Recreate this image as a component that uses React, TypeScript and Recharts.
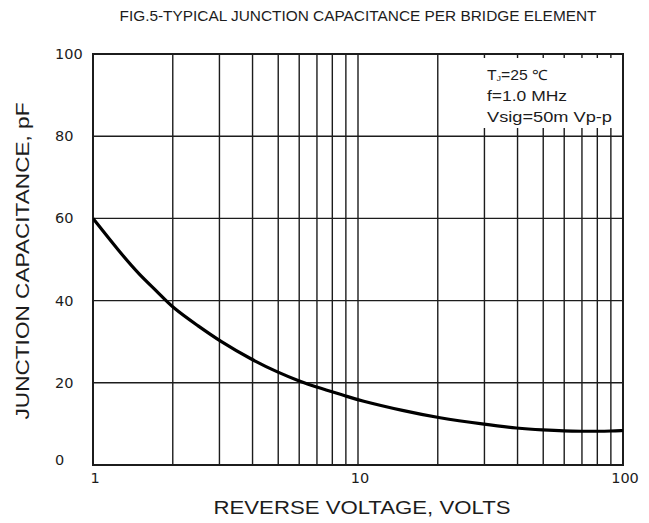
import React from "react";
import { LineChart, Line, XAxis, YAxis, CartesianGrid, ReferenceArea } from "recharts";

// reverse voltage (V) and junction capacitance (pF)
const voltage = [1, 1.25, 1.5, 1.75, 2, 2.5, 3, 4, 5, 6, 7, 8, 9, 10, 15, 20, 30, 40, 50, 60, 70, 80, 90, 100];
const capacitance = [60, 52.1, 46.2, 42.2, 38.2, 33.8, 30.2, 25.5, 22.5, 20.4, 18.9, 17.8, 16.8, 15.8, 13.1, 11.5, 9.9, 8.9, 8.5, 8.25, 8.2, 8.2, 8.25, 8.4];

const xTicks = [1, 2, 3, 4, 5, 6, 7, 8, 9, 10, 20, 30, 40, 50, 60, 70, 80, 90, 100];
const xLabels = [1, 10, 100];
const yTicks = [0, 20, 40, 60, 80, 100];

const title = "FIG.5-TYPICAL JUNCTION CAPACITANCE PER BRIDGE ELEMENT";
const xTitle = "REVERSE VOLTAGE, VOLTS";
const yTitle = "JUNCTION CAPACITANCE, pF";
const conditions = ["f=1.0 MHz", "Vsig=50m Vp-p"];

const data = voltage.map((v, i) => ({ v, c: capacitance[i] }));

const INK = "#1c1c1c";
const SANS = "'Liberation Sans', Arial, sans-serif";
const TICK_FONT = "'DejaVu Sans', sans-serif";

const XTick = (props: any) => {
  const { x, payload } = props;
  if (!xLabels.includes(payload.value)) return null;
  return (
    <text x={x + 2} y={483} textAnchor="middle" fontFamily={TICK_FONT} fontSize={14.5} fill={INK}>
      {payload.value}
    </text>
  );
};

const YTick = (props: any) => {
  const { y, payload } = props;
  return (
    <text x={55} y={y + 5 - (payload.value === 0 ? 5 : 0)} textAnchor="start" fontFamily={TICK_FONT} fontSize={14.5} fill={INK}>
      {payload.value}
    </text>
  );
};

export default function App() {
  return (
    <div style={{ position: "absolute", left: 0, top: 0, width: 649, height: 523, background: "#fff" }}>
      <LineChart width={649} height={523} data={data} margin={{ top: 54, right: 26, bottom: 0, left: 0 }}>
        <CartesianGrid stroke={INK} strokeWidth={1.4} horizontalValues={yTicks} verticalValues={xTicks} />
        <XAxis
          dataKey="v"
          type="number"
          scale="log"
          domain={[1, 100]}
          ticks={xTicks}
          interval={0}
          allowDataOverflow
          height={58}
          axisLine={false}
          tickLine={false}
          tick={<XTick />}
        />
        <YAxis
          type="number"
          domain={[0, 100]}
          ticks={yTicks}
          interval={0}
          width={93}
          axisLine={false}
          tickLine={false}
          tick={<YTick />}
        />
        <ReferenceArea x1={26.5} x2={100} y1={82} y2={99} fill="#fff" fillOpacity={1} stroke="none" />
        <ReferenceArea x1={1} x2={100} y1={0} y2={100} fill="none" stroke={INK} strokeWidth={2} />
        <Line
          dataKey="c"
          type="basis"
          stroke="#000"
          strokeWidth={3.2}
          dot={false}
          isAnimationActive={false}
        />
      </LineChart>
      <svg width={649} height={523} style={{ position: "absolute", left: 0, top: 0, pointerEvents: "none" }}>
        <text x={358} y={21} textAnchor="middle" fontFamily={SANS} fontSize={14} fill={INK} textLength={477} lengthAdjust="spacingAndGlyphs">
          {title}
        </text>
        <text x={362} y={514} textAnchor="middle" fontFamily={SANS} fontSize={19} fill={INK} textLength={297} lengthAdjust="spacingAndGlyphs">
          {xTitle}
        </text>
        <text
          x={22}
          y={261}
          transform="rotate(-90 22 261)"
          dy={7}
          textAnchor="middle"
          fontFamily={SANS}
          fontSize={19}
          fill={INK}
          textLength={317}
          lengthAdjust="spacingAndGlyphs"
        >
          {yTitle}
        </text>
        <text x={487} y={80} fontFamily={SANS} fontSize={14} fill={INK} textLength={61} lengthAdjust="spacingAndGlyphs">
          T<tspan fontSize={8} dy={1}>J</tspan>
          <tspan dy={-1}>=25 ℃</tspan>
        </text>
        <text x={487} y={101} fontFamily={SANS} fontSize={14} fill={INK} textLength={80} lengthAdjust="spacingAndGlyphs">
          {conditions[0]}
        </text>
        <text x={487} y={122} fontFamily={SANS} fontSize={14} fill={INK} textLength={125} lengthAdjust="spacingAndGlyphs">
          {conditions[1]}
        </text>
      </svg>
    </div>
  );
}
